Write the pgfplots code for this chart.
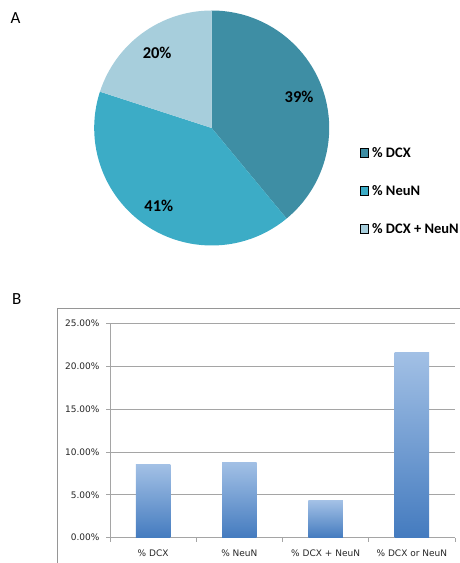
\documentclass[border=0pt]{standalone}
\usepackage{pgfplots}
\pgfplotsset{compat=1.18}
\usepackage{fontspec}
\setmainfont{Carlito}
\newfontfamily\tickfont{DejaVu Sans}

\definecolor{cDCX}{RGB}{62,142,164}
\definecolor{cNeuN}{RGB}{60,172,198}
\definecolor{cBoth}{RGB}{167,206,220}
\definecolor{barTop}{RGB}{162,192,229}
\definecolor{barBot}{RGB}{68,123,191}
\definecolor{gridgray}{RGB}{165,165,165}
\definecolor{framegray}{RGB}{150,150,150}

% shares of the pie (percent)
\def\shareDCX{39}
\def\shareNeuN{41}
\def\shareBoth{20}

\begin{document}
\begin{tikzpicture}
\useasboundingbox (0pt,0pt) rectangle (459pt,563pt);

% panel letters
\node[font=\fontsize{17}{20}\selectfont] at (15.5pt,544.5pt) {A};
\node[font=\fontsize{17}{20}\selectfont] at (16.7pt,264.3pt) {B};

% slice boundaries, clockwise from twelve o'clock
\pgfmathsetmacro\angA{90}
\pgfmathsetmacro\angB{90-3.6*\shareDCX}
\pgfmathsetmacro\angC{\angB-3.6*\shareNeuN}
\pgfmathsetmacro\angD{\angC-3.6*\shareBoth}
\pgfmathsetmacro\midA{(\angA+\angB)/2}
\pgfmathsetmacro\midB{(\angB+\angC)/2}
\pgfmathsetmacro\midC{(\angC+\angD)/2}

\begin{axis}[
  at={(211.7pt,435pt)}, anchor=center,
  scale only axis, width=235pt, height=235pt,
  xmin=-1, xmax=1, ymin=-1, ymax=1,
  hide axis, clip=false,
  legend cell align=left,
  legend image code/.code={\fill[#1] (0pt,-4.5pt) rectangle (8pt,4.5pt);},
  legend style={
    at={(axis description cs:1.129,0.235)}, anchor=west,
    draw=none, fill=none, inner sep=0pt,
    row sep=28pt, column sep=4pt,
    nodes={inner sep=0pt, text height=10pt, text depth=0pt},
    font=\bfseries\fontsize{14.5}{16}\selectfont},
]
\fill[cDCX]  (axis cs:0,0) -- (axis cs:{cos(\angA)},{sin(\angA)})
  arc[start angle=\angA, end angle=\angB, radius=117.5pt] -- cycle;
\fill[cNeuN] (axis cs:0,0) -- (axis cs:{cos(\angB)},{sin(\angB)})
  arc[start angle=\angB, end angle=\angC, radius=117.5pt] -- cycle;
\fill[cBoth] (axis cs:0,0) -- (axis cs:{cos(\angC)},{sin(\angC)})
  arc[start angle=\angC, end angle=\angD, radius=117.5pt] -- cycle;

\node[font=\bfseries\fontsize{16.5}{18}\selectfont]
  at (axis cs:{0.79*cos(\midA)},{0.79*sin(\midA)}) {\shareDCX\%};
\node[font=\bfseries\fontsize{16.5}{18}\selectfont]
  at (axis cs:{0.80*cos(\midB)},{0.80*sin(\midB)}) {\shareNeuN\%};
\node[font=\bfseries\fontsize{16.5}{18}\selectfont]
  at (axis cs:{0.79*cos(\midC)},{0.79*sin(\midC)}) {\shareBoth\%};

\addlegendimage{fill=cDCX}
\addlegendentry{\% DCX}
\addlegendimage{fill=cNeuN}
\addlegendentry{\% NeuN}
\addlegendimage{fill=cBoth}
\addlegendentry{\% DCX + NeuN}
\end{axis}

% frame of the bar chart
\draw[framegray, line width=0.8pt] (57.5pt,-5pt) -- (57.5pt,255pt) -- (470pt,255pt);

\begin{axis}[
  at={(110pt,25.3pt)}, anchor=south west,
  scale only axis, width=345pt, height=214.4pt,
  xmin=-0.5, xmax=3.5, ymin=0, ymax=25,
  axis x line*=bottom, axis y line*=left,
  axis line style={draw=gridgray, line width=0.8pt},
  xtick={0,1,2,3},
  xticklabels={\% DCX, \% NeuN, \% DCX + NeuN, \% DCX or NeuN},
  major x tick style={draw=none},
  minor xtick={-0.5,0.5,1.5,2.5,3.5},
  minor x tick style={draw=gridgray, line width=0.8pt},
  y tick style={draw=gridgray, line width=0.8pt},
  tick align=outside,
  major tick length=4pt, minor tick length=4pt,
  ytick={0,5,10,15,20,25},
  ymajorgrids, grid style={draw=gridgray, line width=0.8pt},
  /pgf/number format/assume math mode=true,
  yticklabel={\pgfmathprintnumber[fixed,fixed zerofill,precision=2]{\tick}\%},
  ticklabel style={font=\tickfont\fontsize{9}{10}\selectfont, text=black!85},
  xticklabel style={yshift=-5pt},
  yticklabel style={xshift=-3pt},
  bar width=0.4, bar shift=0pt,
]
\addplot[ybar, draw=none, top color=barTop, bottom color=barBot] coordinates {(0,8.48)};
\addplot[ybar, draw=none, top color=barTop, bottom color=barBot] coordinates {(1,8.79)};
\addplot[ybar, draw=none, top color=barTop, bottom color=barBot] coordinates {(2,4.28)};
\addplot[ybar, draw=none, top color=barTop, bottom color=barBot] coordinates {(3,21.55)};
\end{axis}
\end{tikzpicture}
\end{document}
